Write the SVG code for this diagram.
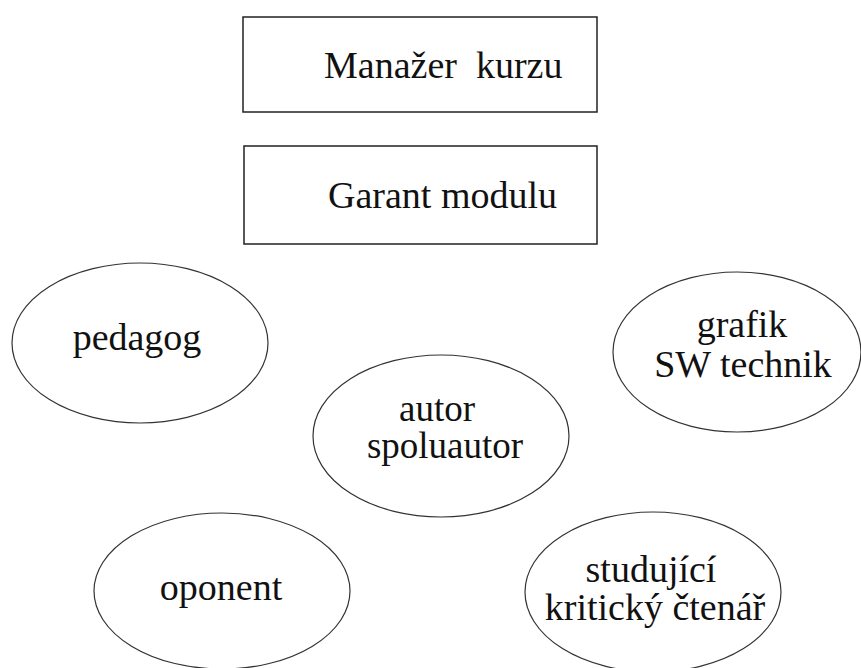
<svg xmlns="http://www.w3.org/2000/svg" width="861" height="668" viewBox="0 0 861 668">
<style>
.box{fill:#fff;stroke:#222;stroke-width:1.5}
.ell{fill:#fff;stroke:#333;stroke-width:1.2}
.c{text-anchor:middle}
</style>
<rect width="861" height="668" fill="#fff"/>
<g id="connectors"></g>
<g font-family="Liberation Serif, DejaVu Serif, serif" font-size="38" fill="#111">
<g id="manazer"><rect class="box" x="243" y="17" width="354" height="95"/><text x="324" y="78" xml:space="preserve">Manažer  kurzu</text></g>
<g id="garant"><rect class="box" x="244" y="146" width="353" height="98"/><text x="328" y="208">Garant modulu</text></g>
<g id="pedagog"><ellipse class="ell" cx="140" cy="343" rx="128" ry="80"/><text class="c" x="137" y="350">pedagog</text></g>
<g id="grafik"><ellipse class="ell" cx="737" cy="352" rx="124" ry="80"/><text class="c" x="742" y="337">grafik</text><text class="c" x="743" y="377">SW technik</text></g>
<g id="autor"><ellipse class="ell" cx="441" cy="436" rx="128" ry="81"/><text class="c" x="437" y="421" font-size="37">autor</text><text class="c" x="445" y="458" font-size="37">spoluautor</text></g>
<g id="oponent"><ellipse class="ell" cx="222" cy="591" rx="128" ry="78"/><text class="c" x="221" y="600">oponent</text></g>
<g id="studujici"><ellipse class="ell" cx="653" cy="592" rx="128" ry="80"/><text class="c" x="651" y="582">studující</text><text class="c" x="655" y="620">kritický čtenář</text></g>
</g>
</svg>
